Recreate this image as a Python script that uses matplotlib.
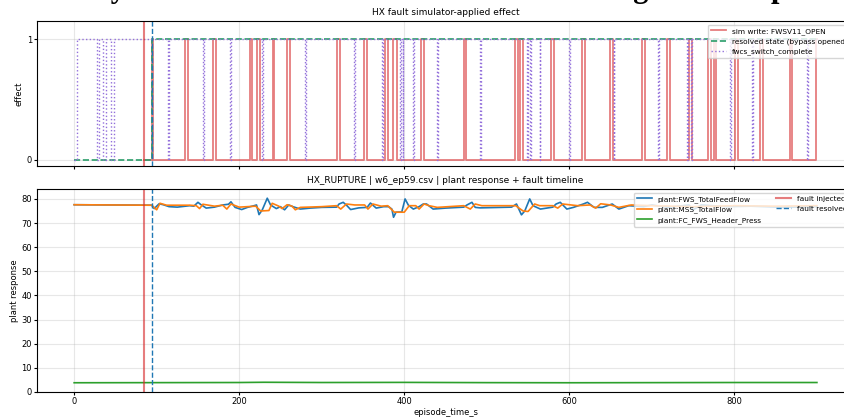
import matplotlib.pyplot as plt

# ---- values ----
t_inject = 85.0
t_resolve = 94.0
t_end = 900.0

# sim write FWSV11_OPEN: short pulses to 1 (start / end, s)
sim_on = [94.2, 134.5, 168.1, 213.3, 221.5, 240.8, 258.5, 318.4, 350.7, 377.0,
          386.3, 420.2, 471.9, 533.7, 540.6, 577.8, 615.4, 649.7, 688.1, 718.4,
          745.5, 768.5, 774.9, 801.2, 831.5, 867.0, 899.0]
sim_off = [96.1, 138.5, 172.1, 216.1, 225.5, 242.4, 261.8, 321.6, 354.8, 379.8,
           391.2, 423.4, 474.8, 537.3, 543.9, 581.8, 619.4, 653.3, 691.3, 722.4,
           749.1, 771.8, 778.2, 804.0, 834.3, 869.9]

# fwcs_switch_complete: 1 after start, with short dips to 0
fwcs_start = 3.6
fwcs_dip_on = [27.5, 35.5, 44.8, 114.0, 156.0, 189.0, 228.0, 280.0, 339.0, 373.0,
               395.0, 398.0, 411.0, 439.6, 492.0, 548.7, 552.0, 564.0, 600.0,
               653.7, 708.0, 742.7, 747.7, 795.0, 821.5, 888.0]
fwcs_dip_off = [30.3, 38.8, 48.8, 115.0, 157.0, 190.0, 229.0, 281.0, 340.0, 374.0,
                396.0, 399.0, 412.0, 440.6, 493.0, 549.7, 553.0, 565.0, 601.0,
                654.7, 709.0, 743.7, 748.7, 796.0, 822.5, 889.0]

fws_t = [0, 90, 94, 97, 100, 103, 108, 115, 125, 140, 145, 150, 153, 160, 170, 180,
         187, 190, 195, 203, 210, 218, 221, 224, 228, 234, 238, 245, 250, 255, 260,
         265, 274, 286, 300, 318, 321, 326, 330, 335, 345, 355, 359, 366, 375, 381,
         385, 387, 390, 397, 401, 405, 411, 418, 423, 427, 435, 450, 472, 476, 482,
         486, 492, 530, 536, 542, 546, 552, 556, 565, 580, 584, 589, 597, 605, 617,
         622, 630, 640, 652, 660, 672, 690, 700, 720, 745, 750, 760, 790, 820, 860, 900]
fws_flow = [77.6, 77.4, 77.4, 76.0, 77.0, 78.0, 77.6, 76.8, 76.6, 77.2, 77.0, 78.6,
            77.8, 76.2, 76.6, 77.5, 77.8, 78.8, 76.5, 75.6, 76.5, 77.2, 77.5, 73.5,
            75.5, 80.3, 77.5, 76.0, 76.8, 75.5, 77.5, 76.8, 75.8, 76.2, 76.5, 76.6,
            77.9, 78.6, 77.4, 75.6, 76.3, 76.5, 78.3, 76.2, 76.8, 76.8, 75.8, 72.4,
            74.5, 74.6, 80.0, 77.4, 75.8, 76.8, 77.9, 77.9, 75.8, 76.2, 76.6, 77.5,
            78.6, 76.5, 76.3, 76.6, 77.9, 73.4, 75.0, 80.0, 77.2, 75.8, 76.6, 77.9,
            78.6, 75.8, 76.5, 77.9, 78.6, 76.5, 76.5, 77.9, 75.8, 77.2, 76.8, 77.5,
            76.5, 77.5, 75.5, 77.5, 76.8, 77.0, 76.5, 76.8]

mss_t = [0, 94, 100, 104, 112, 140, 148, 152, 156, 170, 180, 185, 190, 200, 220,
         226, 236, 240, 248, 252, 258, 264, 268, 274, 300, 318, 323, 330, 340, 352,
         356, 362, 372, 380, 388, 400, 406, 414, 418, 424, 430, 440, 472, 480, 486,
         494, 535, 544, 550, 558, 564, 580, 586, 592, 610, 625, 632, 638, 650, 660,
         675, 700, 750, 800, 850, 900]
mss_flow = [77.6, 77.4, 75.5, 78.2, 77.4, 77.4, 77.2, 76.0, 77.8, 77.0, 77.4, 75.8,
            77.9, 76.6, 77.0, 75.0, 75.2, 78.2, 77.0, 76.0, 77.6, 77.0, 75.5, 76.5,
            76.8, 77.2, 75.8, 77.9, 77.5, 77.5, 75.8, 77.9, 77.0, 77.2, 74.5, 74.5,
            77.2, 77.2, 75.8, 77.9, 77.2, 76.5, 77.2, 75.8, 77.9, 77.2, 77.2, 75.0,
            74.8, 77.9, 77.2, 77.2, 76.2, 77.9, 77.2, 77.5, 76.2, 78.0, 77.5, 76.5,
            77.5, 77.2, 76.8, 77.2, 77.0, 77.2]

press_t = [0, 100, 200, 230, 300, 400, 500, 600, 700, 800, 900]
press = [3.8, 3.85, 3.9, 4.0, 3.9, 3.95, 3.85, 3.8, 3.85, 3.9, 3.9]


def pulses(t0, level0, ons, offs, t_last, hi=1, lo=0):
    t = [t0]
    v = [level0]
    for i, a in enumerate(ons):
        t.append(a)
        v.append(hi)
        if i < len(offs):
            t.append(offs[i])
            v.append(lo)
    t.append(t_last)
    v.append(v[-1])
    return t, v


sim_t, sim_v = pulses(t_inject, 0, sim_on, sim_off, t_end)
fw_t, fw_v = pulses(fwcs_start, 1, fwcs_dip_on, fwcs_dip_off, t_end, hi=0, lo=1)
fw_t = [0] + fw_t
fw_v = [0] + fw_v

plt.rcParams['font.size'] = 6
plt.rcParams['xtick.major.size'] = 2
plt.rcParams['ytick.major.size'] = 2
plt.rcParams['xtick.major.pad'] = 1.6
plt.rcParams['ytick.major.pad'] = 1.6

fig = plt.figure(figsize=(8.45, 4.17), dpi=100)
ax1 = fig.add_axes([0.0438, 0.6019, 0.9669, 0.3477])
ax2 = fig.add_axes([0.0438, 0.0600, 0.9669, 0.4868], sharex=ax1)

# big figure title, mostly outside the canvas (only descenders show)
fig.text(0.1025, 1.006, "Hybrid fault: write vs resolved state timing for run ep59",
         fontsize=22, fontweight='bold', family='Liberation Serif', va='baseline')

# top: applied effect
ax1.step(sim_t, sim_v, where='post', color='tab:red', alpha=0.6, lw=1.3,
         label="sim write: FWSV11_OPEN")
ax1.step([0, t_resolve, t_end], [0, 1, 1], where='post', color='#2a9d6a', ls='--',
         lw=1.2, label="resolved state (bypass opened)")
ax1.step(fw_t, fw_v, where='post', color='mediumpurple', ls=':', lw=1.0,
         label="fwcs_switch_complete")
ax1.axvline(t_inject, color='tab:red', alpha=0.6, lw=1.5)
ax1.axvline(t_resolve, color='tab:blue', ls='--', lw=1.0)
ax1.set_ylim(-0.05, 1.15)
ax1.set_yticks([0, 1])
ax1.set_ylabel("effect", labelpad=2)
ax1.set_title("HX fault simulator-applied effect", fontsize=6.5, pad=4.5)
ax1.grid(True, alpha=0.3)
ax1.tick_params(labelbottom=False)
ax1.legend(loc='upper right', fontsize=5.3)

# bottom: plant response
ax2.plot(fws_t, fws_flow, color='tab:blue', lw=1.2, label="plant:FWS_TotalFeedFlow")
ax2.plot(mss_t, mss_flow, color='tab:orange', lw=1.2, label="plant:MSS_TotalFlow")
ax2.plot(press_t, press, color='tab:green', lw=1.2, label="plant:FC_FWS_Header_Press")
ax2.axvline(t_inject, color='tab:red', alpha=0.6, lw=1.5, label="fault injected")
ax2.axvline(t_resolve, color='tab:blue', ls='--', lw=1.0, label="fault resolved")
ax2.set_xlim(-45, 945)
ax2.set_ylabel("plant response", labelpad=1.5)
ax2.set_xlabel("episode_time_s", labelpad=1.5)
ax2.set_title("HX_RUPTURE | w6_ep59.csv | plant response + fault timeline", fontsize=6.5, pad=4.5)
ax2.grid(True, alpha=0.3)
ax2.legend(loc='upper right', fontsize=5.3, ncol=2)

fig.savefig("out.png", dpi=100)
